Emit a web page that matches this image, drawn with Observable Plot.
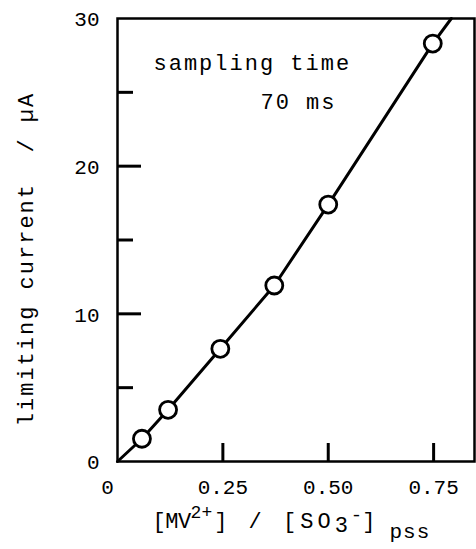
<!DOCTYPE html>
<html><head><meta charset="utf-8">
<script src="https://cdn.jsdelivr.net/npm/d3@7"></script>
<script src="https://cdn.jsdelivr.net/npm/@observablehq/plot@0.6"></script>
<style>body{margin:0;background:#fff} svg{display:block}</style>
</head><body><div id="chart"></div>
<script>
// measured points: [MV2+]/[SO3-]pss ratio vs limiting current (µA)
const ratio   = [0.058, 0.12, 0.244, 0.372, 0.5, 0.748];
const current = [1.54, 3.5, 7.63, 11.92, 17.4, 28.3];
// drawn curve through the points, from origin to the top edge
const curveRatio   = [0, 0.058, 0.12, 0.244, 0.372, 0.5, 0.748, 0.792];
const curveCurrent = [0, 1.54, 3.5, 7.63, 11.92, 17.4, 28.3, 30];
const yMajorTicks = [0, 10, 20, 30];
const yMinorTicks = [5, 15, 25];
const xTicks = [0.25, 0.5, 0.75];
const xZeroTick = [0];
const yTitle = "limiting current  / µA";
const annotLine1 = "sampling time";
const annotLine2 = "70 ms";

const points = ratio.map((r, i) => ({r, c: current[i]}));
const curve = curveRatio.map((r, i) => ({r, c: curveCurrent[i]}));

const W = 476, H = 549, mL = 117, mR = 2, mT = 18, mB = 88;
const innerW = W - mL - mR, innerH = H - mT - mB;
const font = "'Liberation Mono', 'DejaVu Sans Mono', monospace";

const chart = Plot.plot({
  width: W, height: H,
  marginLeft: mL, marginRight: mR, marginTop: mT, marginBottom: mB,
  style: {fontFamily: font, fontSize: "21px", background: "#fff", color: "#000"},
  x: {domain: [0, 0.847]},
  y: {domain: [0, 30]},
  marks: [
    Plot.frame({stroke: "#000", strokeWidth: 2.5}),
    Plot.tickY(yMajorTicks.slice(1, 3), {y: d => d, insetRight: innerW - 24, stroke: "#000", strokeWidth: 3}),
    Plot.tickY(yMinorTicks, {y: d => d, insetRight: innerW - 16, stroke: "#000", strokeWidth: 3}),
    Plot.tickX(xTicks, {x: d => d, insetTop: innerH - 18, stroke: "#000", strokeWidth: 3}),
    Plot.axisY({ticks: yMajorTicks, tickSize: 0, tickPadding: 18, label: null, tickFormat: d => String(d), dy: 1}),
    Plot.axisX({ticks: xTicks, tickSize: 0, tickPadding: 18, label: null, tickFormat: d => d.toFixed(2), style: {letterSpacing: "3px"}}),
    Plot.axisX({ticks: xZeroTick, tickSize: 0, tickPadding: 18, label: null, tickFormat: d => String(d), dx: -10}),
    Plot.line(curve, {x: "r", y: "c", stroke: "#000", strokeWidth: 3}),
    Plot.dot(points, {x: "r", y: "c", r: 8.5, fill: "#fff", stroke: "#000", strokeWidth: 2.8}),
    Plot.text([annotLine1], {text: d => d, frameAnchor: "top-left", textAnchor: "start", lineAnchor: "top", dx: 36, dy: 36, fontSize: 22, className: "annot"}),
    Plot.text([annotLine2], {text: d => d, frameAnchor: "top-left", textAnchor: "start", lineAnchor: "top", dx: 143, dy: 75, fontSize: 22, className: "annot"}),
    Plot.text([yTitle], {text: d => d, frameAnchor: "left", rotate: -90, textAnchor: "middle", lineAnchor: "middle", dx: -92, dy: 19, fontSize: 22, className: "ytitle"}),
    Plot.text(["xtitle"], {text: d => d, frameAnchor: "bottom-left", textAnchor: "start", lineAnchor: "top", dx: 35, dy: 51, fontSize: 22, className: "xtitle"})
  ]
});

const svg = d3.select(chart);
svg.selectAll(".annot text, .ytitle text").style("letter-spacing", "2px");
// x title with superscripts and subscripts
const xt = svg.select(".xtitle text");
xt.text(null);
xt.append("tspan").text("[MV").style("letter-spacing", "-0.5px");
xt.append("tspan").attr("dy", -10).attr("font-size", 18).text("2+");
xt.append("tspan").attr("dy", 10).attr("dx", 2).style("letter-spacing", "4px").text("] / [SO");
xt.append("tspan").attr("dy", 4).text("3");
xt.append("tspan").attr("dy", -11).attr("dx", 3).attr("font-size", 19).text("-");
xt.append("tspan").attr("dy", 7).text("]");
xt.append("tspan").attr("dy", 10).attr("dx", 14).attr("font-size", 21).style("letter-spacing", "1px").text("pss");

document.getElementById("chart").appendChild(chart);
</script>
</body></html>
